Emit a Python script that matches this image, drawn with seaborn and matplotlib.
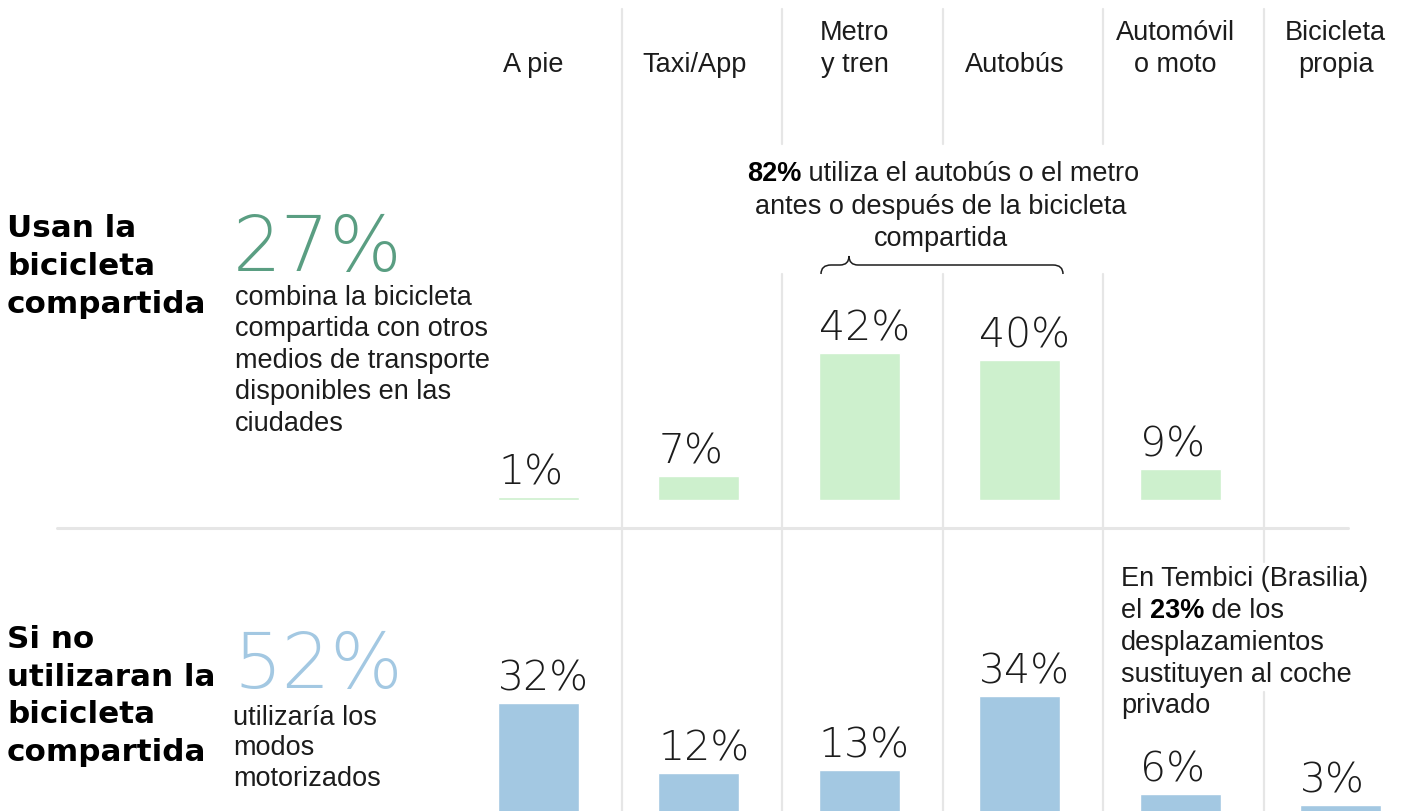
import numpy as np
import seaborn as sns
import matplotlib.pyplot as plt
import matplotlib.transforms as mtransforms
from matplotlib.lines import Line2D
from matplotlib.path import Path
from matplotlib.patches import PathPatch

# data
modes = ['A pie', 'Taxi/App', 'Metro y tren', 'Autobús', 'Automóvil o moto', 'Bicicleta propia']
headers = ['A pie', 'Taxi/App', 'Metro\ny tren', 'Autobús', 'Automóvil\no moto', 'Bicicleta\npropia']
combina = [1, 7, 42, 40, 9, np.nan]      # usan la bicicleta compartida
sustituye = [32, 12, 13, 34, 6, 3]       # si no utilizaran la bicicleta compartida

green_bar = '#cdf0cd'
blue_bar = '#a3c8e2'
green_big = '#5a9e82'
ink = '#1c1c1c'
grid = '#e6e6e6'

sns.set_style('white')
plt.rcParams['font.family'] = ['Liberation Sans', 'DejaVu Sans']

W, H = 1402, 812
fig = plt.figure(figsize=(W / 100, H / 100), dpi=100)
# pixel coords measured from top-left
T = mtransforms.Affine2D().scale(1 / W, -1 / H).translate(0, 1) + fig.transFigure

ax_top = fig.add_axes([0, (H - 528) / H, 1, 528 / H])
ax_bot = fig.add_axes([0, 0, 1, 284 / H])

k = 3.5  # pixels per percent
x0, step = 538.5, 160.4

sns.barplot(x=modes, y=combina, order=modes, color=green_bar, saturation=1,
            width=0.505, ax=ax_top)
sns.barplot(x=modes, y=sustituye, order=modes, color=blue_bar, saturation=1,
            width=0.505, ax=ax_bot)
for ax in (ax_top, ax_bot):
    ax.set_xlim(-x0 / step, (W - x0) / step)
    ax.axis('off')
ax_top.set_ylim(-27 / k, (528 - 27) / k)
ax_bot.set_ylim(4 / k, (284 + 4) / k)

num_font = dict(family=['DejaVu Sans'], fontweight=200)
for ax, vals in ((ax_top, combina), (ax_bot, sustituye)):
    for i, v in enumerate(vals):
        if np.isnan(v):
            continue
        ax.text(i - 0.2525, v + 13 / k, f'{v:g}%', ha='left', va='baseline',
                fontsize=29.5, color=ink, **num_font)

# grid lines
bt = mtransforms.blended_transform_factory(ax_top.transData, T)
segments = {0.5: [(10, 812)], 1.5: [(10, 145), (275, 812)], 2.5: [(10, 145), (275, 812)],
            3.5: [(10, 145), (275, 812)], 4.5: [(10, 563), (693, 812)]}
for xv, segs in segments.items():
    for a, b in segs:
        fig.add_artist(Line2D([xv + 0.02, xv + 0.02], [a, b], transform=bt, color=grid,
                              lw=1.6, zorder=0))
fig.add_artist(Line2D([57, 1348], [528.5, 528.5], transform=T, color=grid, lw=2.2, zorder=0))

# column headers
for i, h in enumerate(headers):
    lines = h.split('\n')
    for j, line in enumerate(reversed(lines)):
        fig.text(i - 0.03, 72.5 - 32.3 * j, line, transform=bt, ha='center', va='baseline',
                 fontsize=19.5, color=ink)

# row titles
row_font = dict(family=['DejaVu Sans'], fontweight='bold', fontsize=22.3, color='black')
for j, line in enumerate(['Usan la', 'bicicleta', 'compartida']):
    fig.text(7, 237 + 38 * j, line, transform=T, va='baseline', **row_font)
for j, line in enumerate(['Si no', 'utilizaran la', 'bicicleta', 'compartida']):
    fig.text(7, 648 + 37.7 * j, line, transform=T, va='baseline', **row_font)

# big figures
fig.text(233, 271, '27%', transform=T, va='baseline', fontsize=55, color=green_big, **num_font)
fig.text(233, 688, '52%', transform=T, va='baseline', fontsize=55, color=blue_bar, **num_font)

desc_top = ['combina la bicicleta', 'compartida con otros', 'medios de transporte',
            'disponibles en las', 'ciudades']
for j, line in enumerate(desc_top):
    fig.text(235, 305 + 31.5 * j, line, transform=T, va='baseline', fontsize=19.5, color=ink)
desc_bot = ['utilizaría los', 'modos', 'motorizados']
for j, line in enumerate(desc_bot):
    fig.text(233, 725 + 30.5 * j, line, transform=T, va='baseline', fontsize=19.5, color=ink)

# annotation: 82%
t1 = fig.text(747, 181, '82%', transform=T, va='baseline', fontsize=19.5,
              fontweight='bold', color='black')
ax_top.annotate(' utiliza el autobús o el metro', xy=(1, 0), xycoords=t1,
                ha='left', va='bottom', fontsize=19.5, color=ink)
fig.text(941, 213.5, 'antes o después de la bicicleta', transform=T, ha='center',
         va='baseline', fontsize=19.5, color=ink)
fig.text(941, 246, 'compartida', transform=T, ha='center', va='baseline',
         fontsize=19.5, color=ink)

verts = [(821, 275), (821, 266), (831, 266), (840, 266), (849, 266), (849, 257),
         (849, 266), (858, 266), (1053, 266), (1063, 266), (1063, 275)]
codes = [Path.MOVETO, Path.CURVE3, Path.CURVE3, Path.LINETO, Path.CURVE3, Path.CURVE3,
         Path.CURVE3, Path.CURVE3, Path.LINETO, Path.CURVE3, Path.CURVE3]
fig.add_artist(PathPatch(Path(verts, codes), transform=T, fill=False, color=ink, lw=1.1))

# annotation: Tembici
fig.text(1121, 586, 'En Tembici (Brasilia)', transform=T, va='baseline', fontsize=19.5, color=ink)
t2 = fig.text(1121, 618, 'el ', transform=T, va='baseline', fontsize=19.5, color=ink)
t3 = ax_bot.annotate('23%', xy=(1, 0), xycoords=t2, ha='left', va='bottom',
                     fontsize=19.5, fontweight='bold', color='black')
ax_bot.annotate(' de los', xy=(1, 0), xycoords=t3, ha='left', va='bottom',
                fontsize=19.5, color=ink)
for j, line in enumerate(['desplazamientos', 'sustituyen al coche', 'privado']):
    fig.text(1121, 650 + 31.7 * j, line, transform=T, va='baseline', fontsize=19.5, color=ink)

fig.savefig('out.png', dpi=100)
